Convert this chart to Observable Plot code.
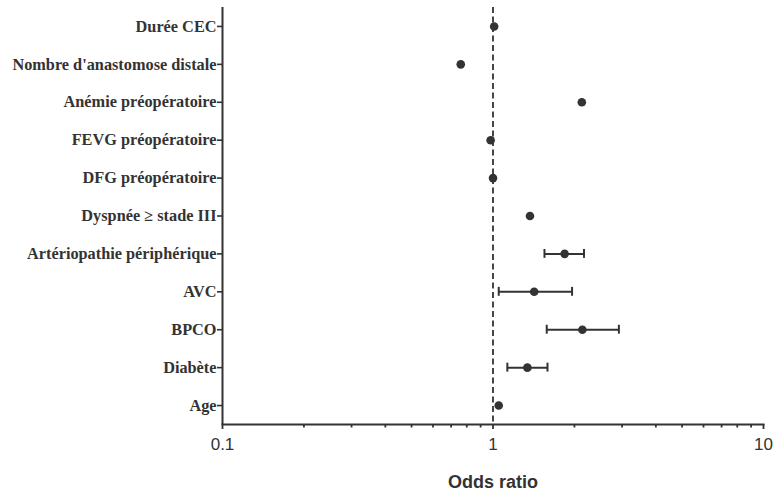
<!DOCTYPE html>
<html>
<head>
<meta charset="utf-8">
<script src="https://cdn.jsdelivr.net/npm/d3@7"></script>
<script src="https://cdn.jsdelivr.net/npm/@observablehq/plot@0.6"></script>
<style>
  body { margin: 0; background: #fff; }
  #chart { width: 776px; height: 494px; }
</style>
</head>
<body>
<div id="chart"></div>
<script>
const variables = ["Durée CEC", "Nombre d'anastomose distale", "Anémie préopératoire", "FEVG préopératoire", "DFG préopératoire", "Dyspnée ≥ stade III", "Artériopathie périphérique", "AVC", "BPCO", "Diabète", "Age"];
const oddsRatio = [1.01, 0.76, 2.13, 0.98, 1.0, 1.37, 1.84, 1.42, 2.14, 1.34, 1.05];
const ciLow  = [null, null, null, null, null, null, 1.55, 1.05, 1.58, 1.13, null];
const ciHigh = [null, null, null, null, null, null, 2.17, 1.96, 2.92, 1.59, null];
const majorTicks = [0.1, 1, 10];
const minorTicks = [0.2,0.3,0.4,0.5,0.6,0.7,0.8,0.9,2,3,4,5,6,7,8,9];

const data = variables.map((v, i) => ({v, or: oddsRatio[i], lo: ciLow[i], hi: ciHigh[i]}));
const ci = data.filter(d => d.lo != null);
const ink = "#333333";

const chart = Plot.plot({
  width: 776,
  height: 494,
  marginLeft: 222,
  marginRight: 13,
  marginTop: 7,
  marginBottom: 70,
  style: {background: "#fff", color: ink},
  x: {type: "log", domain: [0.1, 10], label: null},
  y: {type: "band", domain: variables, padding: 0, round: false, label: null},
  marks: [
    Plot.axisY({tickSize: 5, tickPadding: 1, stroke: ink, strokeWidth: 1.6, fill: ink,
      fontFamily: "'Liberation Serif', 'Times New Roman', serif", fontWeight: "bold", fontSize: 16.3, label: null}),
    Plot.axisX(minorTicks, {tickSize: 3.5, strokeWidth: 1.8, stroke: ink, text: null, label: null}),
    Plot.axisX(majorTicks, {tickSize: 5, tickPadding: 8, strokeWidth: 1.8, stroke: ink, fill: ink,
      fontFamily: "'Liberation Sans', Arial, sans-serif", fontSize: 17,
      tickFormat: d => String(d), label: null}),
    Plot.ruleX([0.1], {stroke: ink, strokeWidth: 2}),
    Plot.frame({anchor: "bottom", stroke: ink, strokeWidth: 2}),
    Plot.ruleX([1], {stroke: ink, strokeWidth: 1.8, strokeDasharray: "6,3.5"}),
    Plot.ruleY(ci, {y: "v", x1: "lo", x2: "hi", stroke: ink, strokeWidth: 2}),
    Plot.tickX(ci, {x: "lo", y: "v", stroke: ink, strokeWidth: 2, insetTop: 14.5, insetBottom: 14.5}),
    Plot.tickX(ci, {x: "hi", y: "v", stroke: ink, strokeWidth: 2, insetTop: 14.5, insetBottom: 14.5}),
    Plot.dot(data, {x: "or", y: "v", r: 4.3, fill: ink, stroke: null}),
    Plot.text(["Odds ratio"], {frameAnchor: "bottom", dy: 63, fill: ink,
      fontFamily: "'Liberation Sans', Arial, sans-serif", fontWeight: "bold", fontSize: 18})
  ]
});
document.getElementById("chart").appendChild(chart);
</script>
</body>
</html>
